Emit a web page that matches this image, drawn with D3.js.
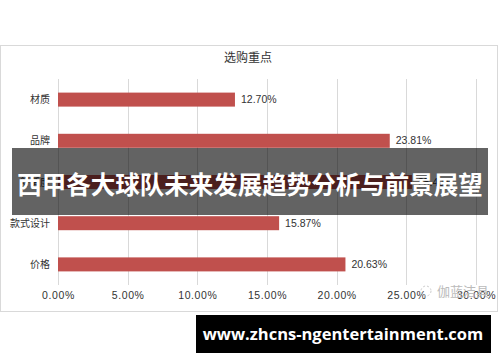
<!DOCTYPE html>
<html>
<head>
<meta charset="utf-8">
<script src="https://cdnjs.cloudflare.com/ajax/libs/d3/7.8.5/d3.min.js"></script>
<style>
  body { margin: 0; background: #fff; }
  svg { display: block; font-family: "Noto Sans CJK SC", "Liberation Sans", sans-serif; }
</style>
</head>
<body>
<svg id="chart" width="500" height="362"></svg>
<script>
// data
const categories = ["材质", "品牌", "舒适度", "款式设计", "价格"];
const values = [12.70, 23.81, 25.40, 15.87, 20.63];
const tickValues = [0, 5, 10, 15, 20, 25, 30];

const svg = d3.select("#chart");
const margin = {left: 58, right: 24, top: 79, bottom: 77};
const W = 500, H = 362;

// chart frame
svg.append("rect")
    .attr("x", 0.5).attr("y", 45.5)
    .attr("width", 497).attr("height", 266)
    .attr("fill", "none")
    .attr("stroke", "#d9d9d9");

const x = d3.scaleLinear().domain([0, 30]).range([margin.left, 476]);
const y = d3.scaleBand().domain(categories).range([margin.top, 285]).paddingInner(0.66).paddingOuter(0.33);

// title
svg.append("text")
    .attr("x", 248).attr("y", 62)
    .attr("text-anchor", "middle")
    .attr("font-size", 12)
    .attr("fill", "#333")
    .text("选购重点");

// grid
svg.append("g")
    .selectAll("line").data(tickValues)
    .enter().append("line")
        .attr("x1", d => Math.round(x(d)) + 0.5)
        .attr("x2", d => Math.round(x(d)) + 0.5)
        .attr("y1", margin.top).attr("y2", 285)
        .attr("stroke", "#d9d9d9");

// x axis labels
const xAxis = d3.axisBottom(x).tickValues(tickValues).tickSize(0).tickPadding(0)
    .tickFormat(d => d.toFixed(2) + "%");
const gx = svg.append("g").attr("transform", "translate(0,292)").call(xAxis);
gx.select(".domain").remove();
gx.selectAll("text")
    .attr("font-size", 10.5)
    .attr("fill", "#333")
    .attr("letter-spacing", 0.6)
    .attr("font-family", "Liberation Sans, sans-serif");

// bars
svg.append("g").selectAll("rect").data(values)
    .enter().append("rect")
        .attr("x", x(0))
        .attr("y", (d, i) => y(categories[i]))
        .attr("width", d => x(d) - x(0))
        .attr("height", y.bandwidth())
        .attr("fill", "#c0504d");

// category labels
svg.append("g").selectAll("text").data(categories)
    .enter().append("text")
        .attr("x", 50)
        .attr("y", d => y(d) + y.bandwidth() / 2)
        .attr("dy", "0.35em")
        .attr("text-anchor", "end")
        .attr("font-size", 10)
        .attr("fill", "#333")
        .text(d => d);

// value labels
svg.append("g").selectAll("text").data(values)
    .enter().append("text")
        .attr("x", d => x(d) + 6)
        .attr("y", (d, i) => y(categories[i]) + y.bandwidth() / 2)
        .attr("dy", "0.35em")
        .attr("font-size", 10.5)
        .attr("fill", "#333")
        .attr("font-family", "Liberation Sans, sans-serif")
        .text(d => d.toFixed(2) + "%");

// watermark in chart
svg.append("circle").attr("cx", 426).attr("cy", 291).attr("r", 5)
    .attr("fill", "none").attr("stroke", "#ccc").attr("stroke-dasharray", "2,2");
svg.append("text")
    .attr("x", 437).attr("y", 296)
    .attr("font-size", 13)
    .attr("fill", "#bbb")
    .text("伽蓝洁具");

// overlay banner
svg.append("rect")
    .attr("x", 12).attr("y", 148)
    .attr("width", 476).attr("height", 67)
    .attr("fill", "rgba(0,0,0,0.61)");
svg.append("text")
    .attr("x", 250).attr("y", 185)
    .attr("dy", "0.35em")
    .attr("text-anchor", "middle")
    .attr("font-size", 24.5)
    .attr("font-weight", "bold")
    .attr("fill", "#fff")
    .text("西甲各大球队未来发展趋势分析与前景展望");

// bottom url box
svg.append("rect")
    .attr("x", 196).attr("y", 315)
    .attr("width", 295).attr("height", 38)
    .attr("fill", "#000");
svg.append("text")
    .attr("x", 343).attr("y", 334)
    .attr("dy", "0.35em")
    .attr("text-anchor", "middle")
    .attr("font-size", 16.5)
    .attr("font-weight", "bold")
    .attr("fill", "#fff")
    .attr("font-family", "Open Sans, DejaVu Sans, sans-serif")
    .text("www.zhcns-ngentertainment.com");
</script>
</body>
</html>
